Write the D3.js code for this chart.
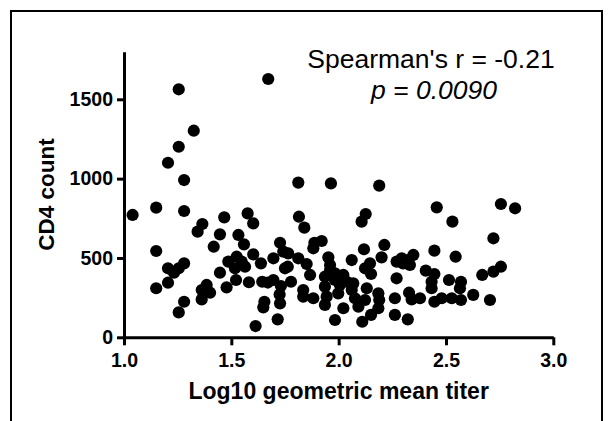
<!DOCTYPE html>
<html><head><meta charset="utf-8">
<script src="https://cdn.jsdelivr.net/npm/d3@7"></script>
<style>body{margin:0;background:#fff}svg{display:block}</style>
</head><body>
<svg id="c" width="608" height="421"></svg>
<script>
const titer = [
1.04,1.15,1.15,1.15,1.205,1.255,1.255,1.28,1.28,1.325,
1.205,1.233,1.255,1.28,1.205,1.255,1.28,
1.343,1.365,1.418,1.447,1.467,1.447,
1.385,1.362,1.401,1.362,
1.478,1.486,1.525,1.548,1.517,1.564,1.522,1.533,1.559,
1.576,1.602,1.602,1.638,1.582,1.644,1.696,1.696,1.67,
1.727,1.742,1.750,1.731,1.725,1.727,1.716,1.613,1.654,1.649,
1.672,
1.765,1.763,1.778,1.812,1.851,1.867,1.815,1.840,1.812,1.964,
1.835,1.835,1.882,1.887,1.921,1.882,
1.952,1.960,1.960,1.936,1.983,2.022,1.936,1.983,2.006,2.038,2.068,
1.998,2.061,1.944,1.936,2.076,2.092,2.022,1.983,
2.061,2.126,2.107,2.118,2.213,2.200,2.146,2.123,2.151,2.189,
2.131,2.123,2.185,2.189,2.185,2.151,2.110,
2.262,2.262,2.270,2.270,2.294,2.325,2.348,2.332,2.300,
2.328,2.340,2.379,2.322,
2.406,2.446,2.433,2.433,2.446,2.457,2.446,2.480,
2.530,2.545,2.514,2.570,2.565,2.527,2.570,2.627,
2.669,2.721,2.756,2.721,2.705,2.756,2.822
];
const cd4 = [
771,817,544,309,1100,1563,1201,991,796,1302,
435,407,435,466,344,157,224,
666,714,571,649,756,407,
330,298,281,239,
315,477,508,477,435,445,361,645,586,
781,718,523,466,347,350,498,361,345,
596,540,435,323,270,214,113,71,224,189,
1628,
529,445,350,498,462,393,760,691,975,970,
298,256,246,596,607,561,
504,456,424,382,403,393,319,361,330,350,340,
277,298,256,204,246,193,183,109,
487,777,729,555,582,504,466,435,399,956,
309,235,277,235,183,141,98,
246,141,477,372,498,487,519,456,466,
281,239,246,113,
420,399,350,309,546,819,224,246,
729,508,361,350,309,246,235,267,
393,414,445,624,235,840,813
];
const xTicks = [1.0,1.5,2.0,2.5,3.0];
const yTicks = [0,500,1000,1500];
const xTitle = "Log10 geometric mean titer";
const yTitle = "CD4 count";
const statLine = "Spearman's r = -0.21";
const pLine = "p = 0.0090";

const svg = d3.select("#c");
const FONT = "'Liberation Sans', Arial, Helvetica, sans-serif";

// outer frame
svg.append("path")
  .attr("d", "M11,430 V11 H602 V430")
  .attr("fill","none").attr("stroke","#000").attr("stroke-width",2);

const x = d3.scaleLinear().domain([1,3]).range([124,553.3]);
const y = d3.scaleLinear().domain([0,1800]).range([337.3,51.7]);

const xAxis = d3.axisBottom(x).tickValues(xTicks).tickFormat(d3.format(".1f"))
  .tickSizeInner(8).tickSizeOuter(0).tickPadding(8);
const yAxis = d3.axisLeft(y).tickValues(yTicks).tickFormat(d3.format("d"))
  .tickSizeInner(7).tickSizeOuter(0).tickPadding(4);

const gx = svg.append("g").attr("transform",`translate(0,${y(0)})`).call(xAxis);
const gy = svg.append("g").attr("transform",`translate(${x(1)},0)`).call(yAxis);
[gx,gy].forEach(g=>{
  g.select(".domain").attr("stroke","#000").attr("stroke-width",3);
  g.selectAll(".tick line").attr("stroke","#000").attr("stroke-width",3);
  g.selectAll(".tick text").attr("fill","#000")
    .style("font-family",FONT).style("font-size","19.5px").style("font-weight","bold");
});

// points
svg.append("g").selectAll("circle").data(titer.map((t,i)=>[t,cd4[i]])).join("circle")
  .attr("cx",d=>x(d[0])).attr("cy",d=>y(d[1])).attr("r",6.1).attr("fill","#000");

// axis titles
svg.append("text").attr("x",(x(1)+x(3))/2).attr("y",399).attr("text-anchor","middle")
  .style("font-family",FONT).style("font-size","23px").style("font-weight","bold").text(xTitle);
svg.append("text").attr("transform",`translate(54,${(y(0)+y(1800))/2}) rotate(-90)`)
  .attr("text-anchor","middle")
  .style("font-family",FONT).style("font-size","22.5px").style("font-weight","bold").text(yTitle);

// annotation
svg.append("text").attr("x",431).attr("y",68).attr("text-anchor","middle")
  .style("font-family",FONT).style("font-size","26.5px").text(statLine);
svg.append("text").attr("x",434).attr("y",99).attr("text-anchor","middle")
  .style("font-family",FONT).style("font-size","26.5px").style("font-style","italic").text(pLine);
</script>
</body></html>
